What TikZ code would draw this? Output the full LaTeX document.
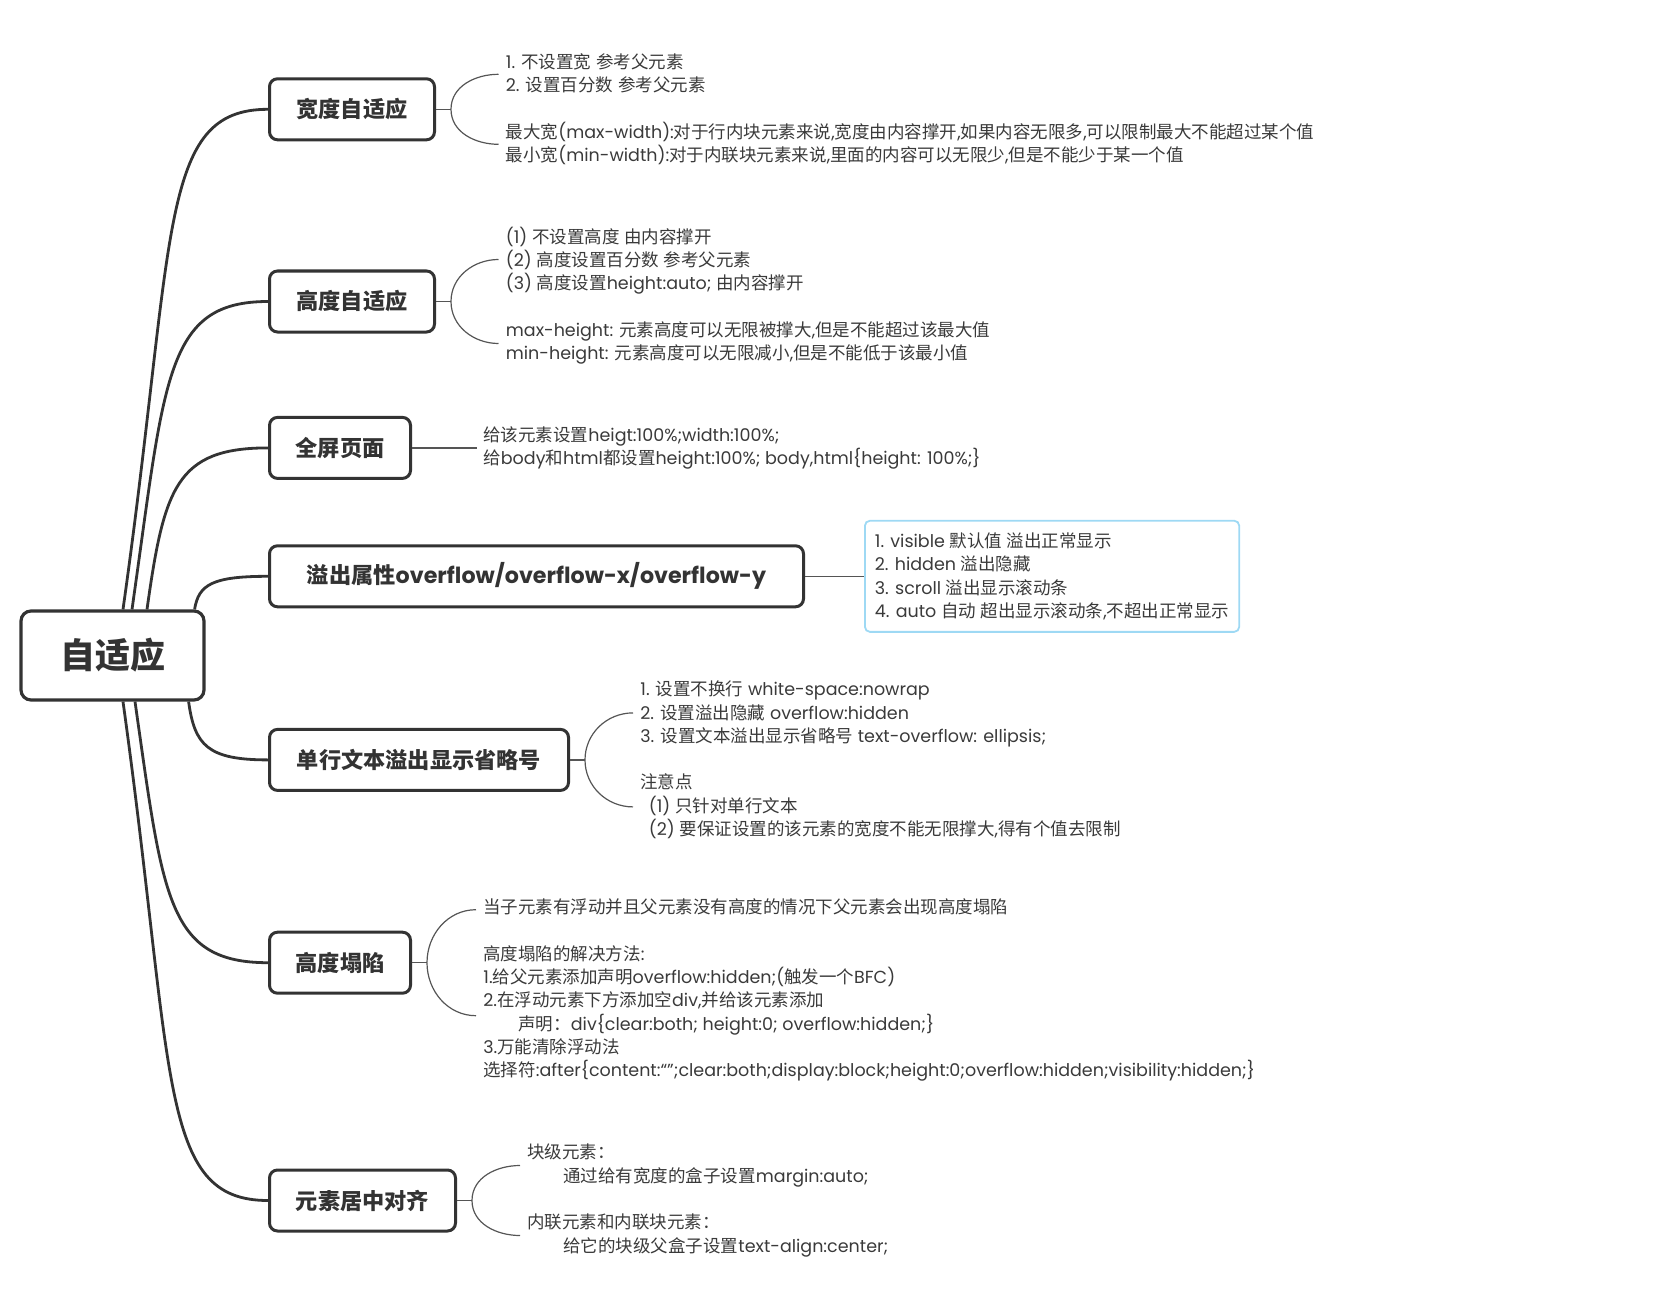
\documentclass[tikz,border=0pt]{standalone}
\usepackage{fontspec}
\setmainfont{Poppins}
\newfontfamily\cjkfont{Noto Sans CJK SC}
\usetikzlibrary{positioning,calc}
% CJK runs are set in Noto Sans CJK SC, the rest in Poppins
\XeTeXinterchartokenstate=1
\newXeTeXintercharclass\cjkclass
\newcount\cjkc
\cjkc="3000
\loop \XeTeXcharclass\cjkc=\cjkclass \ifnum\cjkc<"9FFF \advance\cjkc by 1 \repeat
\cjkc="FF00
\loop \XeTeXcharclass\cjkc=\cjkclass \ifnum\cjkc<"FFEF \advance\cjkc by 1 \repeat
\XeTeXinterchartoks 0 \cjkclass = {\cjkfont}
\XeTeXinterchartoks 4095 \cjkclass = {\cjkfont}
\XeTeXinterchartoks \cjkclass 0 = {\rmfamily}
\XeTeXinterchartoks \cjkclass 4095 = {\rmfamily}
\definecolor{cInk}{HTML}{333333}
\definecolor{cText}{HTML}{3A3A3A}
\definecolor{cTwig}{HTML}{555555}
\definecolor{cBlue}{HTML}{9ED9F4}
\tikzset{
  rootbox/.style={draw=cInk, line width=1.6pt, rounded corners=5pt, fill=white, text=cInk, font=\fontsize{17.5}{20}\selectfont\bfseries, minimum width=91.5pt, minimum height=44.5pt, inner sep=0pt},
  topic/.style={draw=cInk, line width=1.5pt, rounded corners=4pt, fill=white, text=cInk, font=\fontsize{11.1}{13}\selectfont\bfseries, minimum width=#1, minimum height=30.5pt, inner sep=0pt},
  note/.style={align=left, anchor=west, inner sep=0pt, text=cText, font=\fontsize{8.75}{11.65}\selectfont},
  notebox/.style={note, draw=cBlue, line width=0.9pt, rounded corners=2.5pt, inner xsep=5pt, inner ysep=6pt},
  trunk/.style={draw=cInk, line width=1.4pt},
  twig/.style={draw=cTwig, line width=0.6pt},
}
\begin{document}
\begin{tikzpicture}[x=0.5pt, y=-0.5pt]
\useasboundingbox (0,0) rectangle (1664,1289);
\node[rootbox] (root) at (112.5,655.5) {自适应};
% topics
\node[topic=82.5pt, anchor=west] (b1) at (268,109.3) {宽度自适应};
\node[topic=82.5pt, below=64.1pt of b1.south west, anchor=north west] (b2) {高度自适应};
\node[topic=70.5pt, below=41.2pt of b2.south west, anchor=north west] (b3) {全屏页面};
\node[topic=267pt, below=32.2pt of b3.south west, anchor=north west] (b4) {溢出属性overflow/overflow-x/overflow-y};
\node[topic=149.5pt, below=59.8pt of b4.south west, anchor=north west] (b5) {单行文本溢出显示省略号};
\node[topic=70.5pt, below=69.4pt of b5.south west, anchor=north west] (b6) {高度塌陷};
\node[topic=93pt, below=86.9pt of b6.south west, anchor=north west] (b7) {元素居中对齐};
% notes
\node[note, right=34.75pt of b1] (n1) {1. 不设置宽 参考父元素\\2. 设置百分数 参考父元素\\\mbox{}\\最大宽(max-width):对于行内块元素来说,宽度由内容撑开,如果内容无限多,可以限制最大不能超过某个值\\最小宽(min-width):对于内联块元素来说,里面的内容可以无限少,但是不能少于某一个值};
\node[note, right=34.75pt of b2, yshift=3pt] (n2) {(1) 不设置高度 由内容撑开\\(2) 高度设置百分数 参考父元素\\(3) 高度设置height:auto; 由内容撑开\\\mbox{}\\max-height: 元素高度可以无限被撑大,但是不能超过该最大值\\min-height: 元素高度可以无限减小,但是不能低于该最小值};
\node[note, right=35.5pt of b3] (n3) {给该元素设置heigt:100\%;width:100\%;\\给body和html都设置height:100\%; body,html\{height: 100\%;\}};
\node[notebox, right=29.5pt of b4] (n4) {1. visible 默认值 溢出正常显示\\2. hidden 溢出隐藏\\3. scroll 溢出显示滚动条\\4. auto 自动 超出显示滚动条,不超出正常显示};
\node[note, right=35pt of b5] (n5) {1. 设置不换行 white-space:nowrap\\2. 设置溢出隐藏 overflow:hidden\\3. 设置文本溢出显示省略号 text-overflow: ellipsis;\\\mbox{}\\注意点\\\hspace*{4.25pt}(1) 只针对单行文本\\\hspace*{4.25pt}(2) 要保证设置的该元素的宽度不能无限撑大,得有个值去限制};
\node[note, right=35.5pt of b6, yshift=-13.8pt] (n6) {当子元素有浮动并且父元素没有高度的情况下父元素会出现高度塌陷\\\mbox{}\\高度塌陷的解决方法:\\1.给父元素添加声明overflow:hidden;(触发一个BFC)\\2.在浮动元素下方添加空div,并给该元素添加\\\hspace*{17.5pt}声明：div\{clear:both; height:0; overflow:hidden;\}\\3.万能清除浮动法\\选择符:after\{content:“";clear:both;display:block;height:0;overflow:hidden;visibility:hidden;\}};
\node[note, right=35pt of b7] (n7) {块级元素：\\\hspace*{18pt}通过给有宽度的盒子设置margin:auto;\\\mbox{}\\内联元素和内联块元素：\\\hspace*{18pt}给它的块级父盒子设置text-align:center;};
% trunks from the root
\coordinate (s1) at ([xshift=5.25pt]root.north);
\coordinate (s2) at ([xshift=9.75pt]root.north);
\coordinate (s3) at ([xshift=17.25pt]root.north);
\coordinate (s4) at ([xshift=-5.5pt]root.north east);
\coordinate (s5) at ([xshift=-8.5pt]root.south east);
\coordinate (s6) at ([xshift=11.25pt]root.south);
\coordinate (s7) at ([xshift=5.25pt]root.south);
\foreach \i/\dx in {1/26.5pt,2/16.5pt,3/8.5pt,4/2pt,5/3pt,6/14pt,7/26pt}
  \draw[trunk] (s\i) .. controls ($(s\i)!0.75!(s\i|-b\i.west)+(\dx,0)$) and ($(s\i|-b\i.west)!0.24!(b\i.west)$) .. (b\i.west);
% braces to the notes
\foreach \b/\n/\h in {b1/n1/17.5pt,b2/n2/21pt,b5/n5/23.5pt,b6/n6/26.5pt,b7/n7/17.5pt}{
  \coordinate (tip) at ([xshift=7.5pt]\b.east);
  \draw[twig] (\b.east) -- (tip);
  \draw[twig] (tip) to[out=90,in=180] ($(\n.west|-\b.east)+(-3.5pt,\h)$);
  \draw[twig] (tip) to[out=270,in=180] ($(\n.west|-\b.east)+(-3.5pt,-\h)$);
}
\draw[twig] (b3.east) -- ($(b3.east-|n3.west)+(-3pt,0)$);
\draw[twig] (b4.east) -- (b4.east-|n4.west);
\end{tikzpicture}
\end{document}
